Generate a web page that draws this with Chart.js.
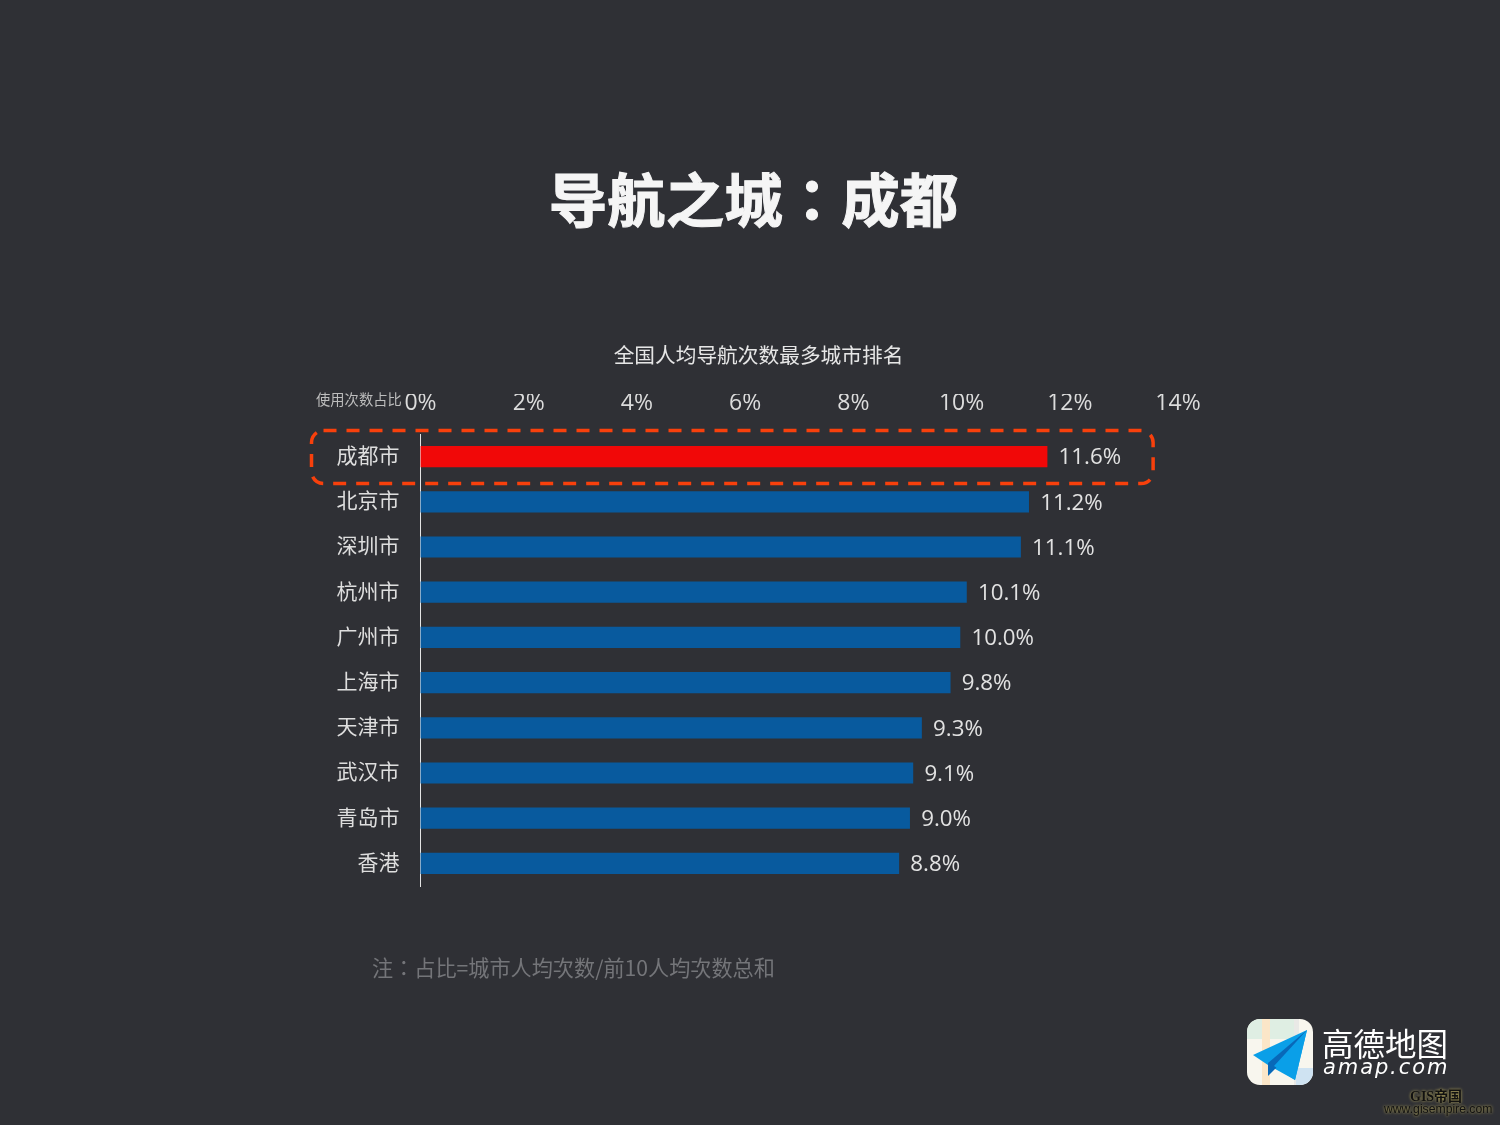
<!DOCTYPE html>
<html lang="zh-CN">

<head>
  <meta charset="UTF-8" />
  <title>导航之城：成都</title>
  <script src="https://cdn.jsdelivr.net/npm/chart.js@4"></script>
  <style>
    html, body { margin: 0; padding: 0; background: #2f3035; }
    canvas { display: block; }
  </style>
</head>

<body>
  <canvas id="chart" width="1500" height="1125"></canvas>

  <script>
    const cities = ['成都市', '北京市', '深圳市', '杭州市', '广州市', '上海市', '天津市', '武汉市', '青岛市', '香港'];
    const shares = [11.58, 11.24, 11.09, 10.09, 9.97, 9.79, 9.26, 9.1, 9.04, 8.84];
    const tickValues = [0, 2, 4, 6, 8, 10, 12, 14];

    const cjk = '"Noto Sans CJK SC"';
    // TC has the centred full-width colon
    const cjkColon = '"Noto Sans CJK TC"';
    const latin = '"Open Sans", "Noto Sans CJK SC"';

    function text(ctx, str, x, y, font, color, align) {
      ctx.font = font;
      ctx.fillStyle = color;
      ctx.textAlign = align || 'left';
      ctx.textBaseline = 'middle';
      ctx.fillText(str, x, y);
    }

    // titles, note and axis caption
    const pageText = {
      id: 'pageText',
      afterDraw(chart) {
        const ctx = chart.ctx;
        ctx.save();
        // canvas font picks glyphs by language, so switch it for the two lines with a colon
        chart.canvas.lang = 'zh-TW';
        ctx.lang = 'zh-TW';
        text(ctx, '导航之城：成都', 753.5, 200, 'bold 58.5px ' + cjkColon, '#f5f5f5', 'center');
        ctx.strokeStyle = '#f5f5f5';
        ctx.lineWidth = 1;
        ctx.strokeText('导航之城：成都', 753.5, 200);
        text(ctx, '注：占比=城市人均次数/前10人均次数总和', 372, 968, '21.15px ' + cjkColon, '#747579');
        chart.canvas.lang = 'zh-CN';
        ctx.lang = 'zh-CN';
        text(ctx, '全国人均导航次数最多城市排名', 758.5, 355.5, '20.7px ' + cjk, '#e6e6e6', 'center');
        text(ctx, '使用次数占比', 316, 399.5, '14.3px ' + cjk, '#bdbdbd');
        ctx.restore();
      }
    };

    // category names and value labels next to the bars
    const barLabels = {
      id: 'barLabels',
      afterDatasetsDraw(chart) {
        const ctx = chart.ctx;
        ctx.save();
        chart.getDatasetMeta(0).data.forEach((bar, i) => {
          text(ctx, cities[i], 399.5, bar.y - 1.5, '21px ' + cjk, '#dedede', 'right');
          text(ctx, shares[i].toFixed(1) + '%', bar.x + 11.5, bar.y + 1.5, '22.3px ' + latin, '#e2e2e2');
        });
        ctx.restore();
      }
    };

    // dashed box around the first city
    const highlight = {
      id: 'highlight',
      afterDatasetsDraw(chart) {
        const ctx = chart.ctx;
        const x = chart.scales.x;
        const y = chart.scales.y;
        const cy = y.getPixelForValue(0);
        const left = x.getPixelForValue(0) - 109;
        const right = x.getPixelForValue(13.54);
        ctx.save();
        ctx.strokeStyle = '#f8400c';
        ctx.lineWidth = 3.5;
        ctx.setLineDash([13, 10]);
        ctx.beginPath();
        ctx.roundRect(left, cy - 26, right - left, 53, 12);
        ctx.stroke();
        ctx.restore();
      }
    };

    // amap logo and watermark
    const logo = {
      id: 'logo',
      afterDraw(chart) {
        const ctx = chart.ctx;
        ctx.save();
        ctx.beginPath();
        ctx.roundRect(1247, 1019, 66, 66, 13);
        ctx.clip();
        ctx.fillStyle = '#f8f6ee';
        ctx.fillRect(1247, 1019, 66, 66);
        ctx.fillStyle = '#dfeee3';
        ctx.fillRect(1247, 1019, 15, 20);
        ctx.fillRect(1270, 1019, 24, 20);
        ctx.fillStyle = '#fbe6c8';
        ctx.fillRect(1262, 1019, 8, 66);
        ctx.fillStyle = '#e9e9e6';
        ctx.fillRect(1294, 1019, 5, 66);
        ctx.fillStyle = '#cfe3f2';
        ctx.fillRect(1296, 1068, 17, 17);
        ctx.restore();

        ctx.save();
        ctx.fillStyle = '#0a9fe8';
        ctx.beginPath();
        ctx.moveTo(1307, 1030);
        ctx.lineTo(1253, 1055);
        ctx.lineTo(1268, 1065);
        ctx.lineTo(1295, 1080);
        ctx.closePath();
        ctx.fill();
        ctx.fillStyle = '#0868b8';
        ctx.beginPath();
        ctx.moveTo(1307, 1030);
        ctx.lineTo(1268, 1063);
        ctx.lineTo(1268, 1076);
        ctx.lineTo(1276, 1068);
        ctx.closePath();
        ctx.fill();
        ctx.fillStyle = '#0a9fe8';
        ctx.beginPath();
        ctx.moveTo(1307, 1030);
        ctx.lineTo(1274, 1066);
        ctx.lineTo(1295, 1080);
        ctx.closePath();
        ctx.fill();

        text(ctx, '高德地图', 1322, 1044, '31.5px ' + cjk, '#ffffff');
        ctx.letterSpacing = '1.9px';
        text(ctx, 'amap.com', 1323, 1068.5, 'italic 21px "DejaVu Sans"', '#ffffff');
        ctx.letterSpacing = '0px';

        ctx.shadowColor = '#c8b860';
        ctx.shadowBlur = 3;
        text(ctx, 'GIS帝国', 1410, 1097, 'bold 14px "Liberation Serif", ' + cjk, '#111111');
        text(ctx, 'www.gisempire.com', 1384, 1110, '12.2px "Liberation Sans"', '#111111');
        ctx.restore();
      }
    };

    new Chart(document.getElementById('chart'), {
      type: 'bar',
      data: {
        labels: cities,
        datasets: [{
          data: shares,
          backgroundColor: cities.map((c, i) => i === 0 ? '#f10808' : '#085a9e'),
          barThickness: 20.5,
          borderWidth: 0
        }]
      },
      options: {
        indexAxis: 'y',
        responsive: false,
        animation: false,
        devicePixelRatio: 1,
        layout: { padding: { left: 320.5, right: 322, top: 394, bottom: 239 } },
        plugins: { legend: { display: false }, tooltip: { enabled: false } },
        scales: {
          x: {
            position: 'top',
            min: 0,
            max: 14,
            afterBuildTicks: axis => { axis.ticks = tickValues.map(v => ({ value: v })); },
            afterFit: axis => { axis.height = 40; },
            grid: { display: false, drawTicks: false },
            border: { display: false },
            ticks: {
              padding: 17,
              maxRotation: 0,
              color: '#dcdcdc',
              font: { family: latin, size: 23 },
              callback: v => v + '%'
            }
          },
          y: {
            afterFit: axis => { axis.width = 100; },
            grid: { display: false, drawTicks: false },
            border: { color: '#e4e4e4', width: 1 },
            ticks: { display: false }
          }
        }
      },
      plugins: [barLabels, highlight, pageText, logo]
    });
  </script>
</body>

</html>
